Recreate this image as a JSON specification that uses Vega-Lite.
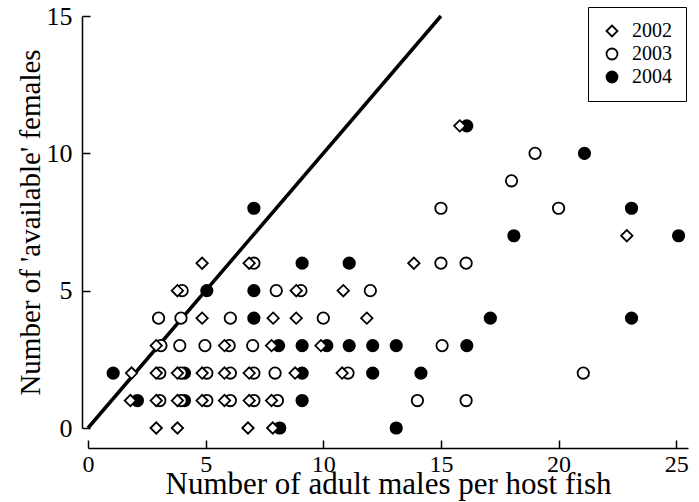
{
  "$schema": "https://vega.github.io/schema/vega-lite/v6.json",
  "width": 600,
  "height": 412,
  "autosize": {"type": "none"},
  "padding": {"left": 88, "top": 16, "right": 11, "bottom": 74},
  "background": "white",
  "config": {"view": {"stroke": null}, "font": "Liberation Serif"},
  "encoding": {
    "x": {
      "field": "x", "type": "quantitative",
      "scale": {"domain": [0, 25.5], "nice": false, "zero": false},
      "axis": {
        "title": "Number of adult males per host fish",
        "values": [0, 5, 10, 15, 20, 25],
        "offset": 20, "grid": false, "labelFlush": false,
        "domainColor": "black", "domainWidth": 1.5,
        "tickColor": "black", "tickWidth": 1.5, "tickSize": -8,
        "labelFont": "Liberation Serif", "labelFontSize": 24, "labelColor": "black", "labelPadding": 12,
        "titleFont": "Liberation Serif", "titleFontSize": 31, "titleFontWeight": "normal", "titleColor": "black", "titlePadding": -7
      }
    },
    "y": {
      "field": "y", "type": "quantitative",
      "scale": {"domain": [0, 15], "nice": false, "zero": false},
      "axis": {
        "title": "Number of 'available' females",
        "values": [0, 5, 10, 15],
        "offset": 6, "grid": false, "labelFlush": false,
        "domainColor": "black", "domainWidth": 1.5,
        "tickColor": "black", "tickWidth": 1.5, "tickSize": -8,
        "labelFont": "Liberation Serif", "labelFontSize": 26, "labelColor": "black", "labelPadding": 18,
        "titleFont": "Liberation Serif", "titleFontSize": 29, "titleFontWeight": "normal", "titleColor": "black", "titlePadding": 1
      }
    }
  },
  "layer": [
    {
      "data": {"values": [{"x": 0, "y": 0}, {"x": 15, "y": 15}]},
      "mark": {"type": "line", "color": "black", "strokeWidth": 3.5},
      "encoding": {}
    },
    {
      "data": {"values": [
        {"x": 2.9, "y": 0, "year": "2002"}, {"x": 3.8, "y": 0, "year": "2002"}, {"x": 6.8, "y": 0, "year": "2002"}, {"x": 7.85, "y": 0, "year": "2002"},
        {"x": 1.8, "y": 1, "year": "2002"}, {"x": 2.9, "y": 1, "year": "2002"}, {"x": 3.8, "y": 1, "year": "2002"}, {"x": 4.85, "y": 1, "year": "2002"}, {"x": 5.8, "y": 1, "year": "2002"}, {"x": 6.85, "y": 1, "year": "2002"}, {"x": 7.8, "y": 1, "year": "2002"},
        {"x": 1.85, "y": 2, "year": "2002"}, {"x": 2.9, "y": 2, "year": "2002"}, {"x": 3.8, "y": 2, "year": "2002"}, {"x": 4.85, "y": 2, "year": "2002"}, {"x": 5.8, "y": 2, "year": "2002"}, {"x": 6.85, "y": 2, "year": "2002"}, {"x": 8.8, "y": 2, "year": "2002"}, {"x": 10.8, "y": 2, "year": "2002"},
        {"x": 2.9, "y": 3, "year": "2002"}, {"x": 5.8, "y": 3, "year": "2002"}, {"x": 7.8, "y": 3, "year": "2002"}, {"x": 9.9, "y": 3, "year": "2002"},
        {"x": 4.85, "y": 4, "year": "2002"}, {"x": 7.87, "y": 4, "year": "2002"}, {"x": 8.85, "y": 4, "year": "2002"}, {"x": 11.85, "y": 4, "year": "2002"},
        {"x": 3.8, "y": 5, "year": "2002"}, {"x": 8.85, "y": 5, "year": "2002"}, {"x": 10.85, "y": 5, "year": "2002"},
        {"x": 4.85, "y": 6, "year": "2002"}, {"x": 6.85, "y": 6, "year": "2002"}, {"x": 13.85, "y": 6, "year": "2002"},
        {"x": 22.9, "y": 7, "year": "2002"}, {"x": 15.8, "y": 11, "year": "2002"},

        {"x": 3.05, "y": 1, "year": "2003"}, {"x": 3.95, "y": 1, "year": "2003"}, {"x": 5.05, "y": 1, "year": "2003"}, {"x": 6.05, "y": 1, "year": "2003"}, {"x": 7.05, "y": 1, "year": "2003"}, {"x": 8.05, "y": 1, "year": "2003"}, {"x": 14.0, "y": 1, "year": "2003"}, {"x": 16.07, "y": 1, "year": "2003"},
        {"x": 3.05, "y": 2, "year": "2003"}, {"x": 3.95, "y": 2, "year": "2003"}, {"x": 5.05, "y": 2, "year": "2003"}, {"x": 6.05, "y": 2, "year": "2003"}, {"x": 7.05, "y": 2, "year": "2003"}, {"x": 7.95, "y": 2, "year": "2003"}, {"x": 11.05, "y": 2, "year": "2003"}, {"x": 21.05, "y": 2, "year": "2003"},
        {"x": 3.1, "y": 3, "year": "2003"}, {"x": 3.9, "y": 3, "year": "2003"}, {"x": 4.97, "y": 3, "year": "2003"}, {"x": 6.0, "y": 3, "year": "2003"}, {"x": 7.0, "y": 3, "year": "2003"}, {"x": 15.05, "y": 3, "year": "2003"},
        {"x": 3.0, "y": 4, "year": "2003"}, {"x": 3.95, "y": 4, "year": "2003"}, {"x": 6.05, "y": 4, "year": "2003"}, {"x": 10.0, "y": 4, "year": "2003"},
        {"x": 4.0, "y": 5, "year": "2003"}, {"x": 8.0, "y": 5, "year": "2003"}, {"x": 9.05, "y": 5, "year": "2003"}, {"x": 12.0, "y": 5, "year": "2003"},
        {"x": 7.05, "y": 6, "year": "2003"}, {"x": 15.0, "y": 6, "year": "2003"}, {"x": 16.07, "y": 6, "year": "2003"},
        {"x": 15.0, "y": 8, "year": "2003"}, {"x": 20.0, "y": 8, "year": "2003"}, {"x": 18.0, "y": 9, "year": "2003"}, {"x": 19.0, "y": 10, "year": "2003"},

        {"x": 8.15, "y": 0, "year": "2004"}, {"x": 13.1, "y": 0, "year": "2004"},
        {"x": 2.1, "y": 1, "year": "2004"}, {"x": 4.1, "y": 1, "year": "2004"}, {"x": 9.1, "y": 1, "year": "2004"},
        {"x": 1.07, "y": 2, "year": "2004"}, {"x": 4.1, "y": 2, "year": "2004"}, {"x": 9.1, "y": 2, "year": "2004"}, {"x": 12.1, "y": 2, "year": "2004"}, {"x": 14.15, "y": 2, "year": "2004"},
        {"x": 8.1, "y": 3, "year": "2004"}, {"x": 9.1, "y": 3, "year": "2004"}, {"x": 10.15, "y": 3, "year": "2004"}, {"x": 11.1, "y": 3, "year": "2004"}, {"x": 12.1, "y": 3, "year": "2004"}, {"x": 13.1, "y": 3, "year": "2004"}, {"x": 16.1, "y": 3, "year": "2004"},
        {"x": 7.05, "y": 4, "year": "2004"}, {"x": 17.1, "y": 4, "year": "2004"}, {"x": 23.1, "y": 4, "year": "2004"},
        {"x": 5.05, "y": 5, "year": "2004"}, {"x": 7.05, "y": 5, "year": "2004"},
        {"x": 9.1, "y": 6, "year": "2004"}, {"x": 11.1, "y": 6, "year": "2004"},
        {"x": 18.1, "y": 7, "year": "2004"}, {"x": 25.1, "y": 7, "year": "2004"},
        {"x": 7.05, "y": 8, "year": "2004"}, {"x": 23.1, "y": 8, "year": "2004"},
        {"x": 21.1, "y": 10, "year": "2004"}, {"x": 16.1, "y": 11, "year": "2004"}
      ]},
      "mark": {"type": "point", "strokeWidth": 1.8, "opacity": 1, "size": 130},
      "encoding": {
        "shape": {
          "field": "year", "type": "nominal",
          "scale": {"domain": ["2002", "2003", "2004"], "range": ["diamond", "circle", "circle"]},
          "legend": {
            "title": null, "orient": "none", "legendX": 500, "legendY": -9,
            "strokeColor": "black", "fillColor": "white", "padding": 14,
            "labelFont": "Liberation Serif", "labelFontSize": 20, "labelColor": "black",
            "symbolSize": 120, "symbolStrokeWidth": 1.8,
            "rowPadding": 3, "labelOffset": 10
          }
        },
        "fill": {
          "field": "year", "type": "nominal",
          "scale": {"domain": ["2002", "2003", "2004"], "range": ["white", "white", "black"]},
          "legend": {
            "title": null, "orient": "none", "legendX": 500, "legendY": -9,
            "strokeColor": "black", "fillColor": "white", "padding": 14,
            "labelFont": "Liberation Serif", "labelFontSize": 20, "labelColor": "black",
            "symbolSize": 120, "symbolStrokeWidth": 1.8,
            "rowPadding": 3, "labelOffset": 10
          }
        },
        "stroke": {
          "field": "year", "type": "nominal",
          "scale": {"domain": ["2002", "2003", "2004"], "range": ["black", "black", "black"]},
          "legend": {
            "title": null, "orient": "none", "legendX": 500, "legendY": -9,
            "strokeColor": "black", "fillColor": "white", "padding": 14,
            "labelFont": "Liberation Serif", "labelFontSize": 20, "labelColor": "black",
            "symbolSize": 120, "symbolStrokeWidth": 1.8,
            "rowPadding": 3, "labelOffset": 10
          }
        },
        "order": {"field": "year", "type": "nominal", "sort": "descending"}
      }
    }
  ]
}
